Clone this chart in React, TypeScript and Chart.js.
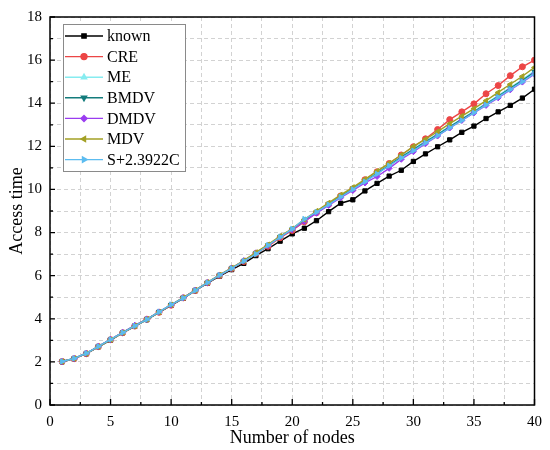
import { useEffect, useRef } from "react"
import { Chart, registerables } from "chart.js"
import { drawPoint } from "chart.js/helpers"

Chart.register(...registerables)

// number of nodes (x axis)
const nodes = [
  1, 2, 3, 4, 5, 6, 7, 8, 9, 10, 11, 12, 13, 14, 15, 16, 17, 18, 19, 20,
  21, 22, 23, 24, 25, 26, 27, 28, 29, 30, 31, 32, 33, 34, 35, 36, 37, 38, 39, 40,
]

const known = [
  2.0, 2.15, 2.38, 2.7, 3.01, 3.35, 3.65, 3.96, 4.3, 4.62, 4.95, 5.3, 5.65, 5.98, 6.28, 6.57, 6.93, 7.25, 7.6, 7.94,
  8.2, 8.55, 8.97, 9.36, 9.52, 9.93, 10.28, 10.62, 10.89, 11.3, 11.65, 11.98, 12.3, 12.65, 12.94, 13.29, 13.6, 13.9, 14.24, 14.65,
]
const cre = [
  2.02, 2.15, 2.38, 2.71, 3.03, 3.35, 3.66, 3.98, 4.3, 4.63, 4.97, 5.31, 5.67, 6.01, 6.33, 6.66, 7.03, 7.36, 7.76, 8.1,
  8.5, 8.92, 9.3, 9.7, 10.02, 10.45, 10.82, 11.2, 11.6, 11.98, 12.35, 12.78, 13.24, 13.6, 13.97, 14.44, 14.82, 15.28, 15.69, 16.0,
]
const me = [
  2.02, 2.16, 2.4, 2.72, 3.03, 3.36, 3.67, 3.97, 4.32, 4.65, 4.97, 5.32, 5.68, 6.02, 6.34, 6.68, 7.05, 7.42, 7.82, 8.15,
  8.57, 8.94, 9.32, 9.68, 10.04, 10.4, 10.77, 11.14, 11.52, 11.88, 12.24, 12.58, 12.93, 13.28, 13.63, 13.99, 14.36, 14.73, 15.1, 15.5,
]
const bmdv = [
  2.02, 2.16, 2.39, 2.72, 3.03, 3.36, 3.68, 3.97, 4.31, 4.64, 4.97, 5.32, 5.67, 6.02, 6.34, 6.68, 7.04, 7.41, 7.8, 8.15,
  8.56, 8.93, 9.31, 9.67, 10.03, 10.38, 10.75, 11.12, 11.5, 11.85, 12.21, 12.55, 12.9, 13.25, 13.6, 13.96, 14.32, 14.69, 15.06, 15.45,
]
const dmdv = [
  2.02, 2.16, 2.4, 2.72, 3.04, 3.37, 3.7, 3.98, 4.32, 4.64, 4.98, 5.33, 5.68, 6.03, 6.35, 6.7, 7.06, 7.4, 7.8, 8.13,
  8.52, 8.9, 9.26, 9.62, 9.95, 10.3, 10.6, 10.98, 11.4, 11.75, 12.12, 12.48, 12.85, 13.2, 13.55, 13.9, 14.25, 14.62, 14.98, 15.35,
]
const mdv = [
  2.02, 2.16, 2.39, 2.71, 3.03, 3.36, 3.67, 3.98, 4.31, 4.65, 4.98, 5.33, 5.69, 6.04, 6.36, 6.7, 7.08, 7.44, 7.84, 8.18,
  8.6, 9.0, 9.38, 9.75, 10.1, 10.47, 10.85, 11.22, 11.6, 12.0, 12.33, 12.68, 13.05, 13.4, 13.75, 14.12, 14.5, 14.88, 15.25, 15.66,
]
const sc = [
  2.02, 2.16, 2.4, 2.72, 3.04, 3.36, 3.67, 3.97, 4.32, 4.66, 4.96, 5.32, 5.68, 6.03, 6.34, 6.68, 7.0, 7.41, 7.79, 8.17,
  8.63, 8.95, 9.3, 9.65, 10.0, 10.36, 10.72, 11.1, 11.46, 11.8, 12.16, 12.5, 12.86, 13.2, 13.56, 13.92, 14.28, 14.64, 15.0, 15.38,
]

const seriesNames = ["known", "CRE", "ME", "BMDV", "DMDV", "MDV", "S+2.3922C"]
const seriesValues = [known, cre, me, bmdv, dmdv, mdv, sc]
const seriesColors = ["#000000", "#ec4646", "#86ecf0", "#147c7c", "#9a3cf0", "#a3a024", "#5cbcf0"]
const seriesMarkers = ["rect", "circle", "triangle", "triangle", "rectRot", "triangle", "triangle"]
const markerRotation = [0, 0, 0, 180, 0, -90, 90]

const FONT = "'Liberation Serif', 'Times New Roman', serif"

// frame, inward ticks and boxed legend in the upper left
const framePlugin = {
  id: "frame",
  afterDraw(chart: any) {
    const { ctx, chartArea } = chart
    const { left, right, top, bottom } = chartArea
    const xs = chart.scales.x
    const ys = chart.scales.y
    ctx.save()
    ctx.strokeStyle = "#000"
    ctx.lineWidth = 1.5
    ctx.strokeRect(left, top, right - left, bottom - top)
    ctx.lineWidth = 1.3
    ctx.beginPath()
    for (let v = 0; v <= 40; v += 2.5) {
      const px = xs.getPixelForValue(v)
      const len = v % 5 === 0 ? 6 : 3
      ctx.moveTo(px, bottom)
      ctx.lineTo(px, bottom - len)
    }
    for (let v = 0; v <= 18; v += 1) {
      const py = ys.getPixelForValue(v)
      const len = v % 2 === 0 ? 5 : 3
      ctx.moveTo(left, py)
      ctx.lineTo(left + len, py)
    }
    ctx.stroke()

    // legend box
    const bx = left + 13
    const by = top + 7
    const bw = 122
    const bh = 147
    ctx.fillStyle = "#fff"
    ctx.fillRect(bx, by, bw, bh)
    ctx.strokeStyle = "#8a8a8a"
    ctx.lineWidth = 1
    ctx.strokeRect(bx + 0.5, by + 0.5, bw, bh)
    ctx.font = `16px ${FONT}`
    ctx.textBaseline = "middle"
    ctx.textAlign = "left"
    seriesNames.forEach((name, i) => {
      const y = by + 12 + i * 20.6
      ctx.strokeStyle = seriesColors[i]
      ctx.fillStyle = seriesColors[i]
      ctx.lineWidth = 1.4
      ctx.beginPath()
      ctx.moveTo(bx + 2, y)
      ctx.lineTo(bx + 40, y)
      ctx.stroke()
      drawPoint(ctx, { pointStyle: seriesMarkers[i], rotation: markerRotation[i], radius: 3, borderWidth: 1 } as any, bx + 21, y)
      ctx.fillStyle = "#000"
      ctx.fillText(name, bx + 44, y + 1)
    })
    ctx.restore()
  },
}

export default function App() {
  const canvasRef = useRef<HTMLCanvasElement>(null)
  const chartRef = useRef<Chart | null>(null)

  useEffect(() => {
    if (!canvasRef.current) return
    if (chartRef.current) chartRef.current.destroy()

    const datasets = seriesNames.map((name, i) => ({
      label: name,
      data: nodes.map((n, j) => ({ x: n, y: seriesValues[i][j] })),
      borderColor: seriesColors[i],
      backgroundColor: seriesColors[i],
      borderWidth: 1.4,
      pointStyle: seriesMarkers[i] as any,
      pointRotation: markerRotation[i],
      pointRadius: 3,
      pointBorderWidth: 1,
      tension: 0,
      order: seriesNames.length - i,
    }))

    chartRef.current = new Chart(canvasRef.current, {
      type: "line",
      data: { datasets },
      options: {
        responsive: false,
        animation: false,
        layout: { padding: { left: 0, right: 13, top: 12, bottom: 0 } },
        plugins: {
          legend: { display: false },
          tooltip: { enabled: false },
        },
        scales: {
          x: {
            type: "linear",
            min: 0,
            max: 40,
            afterFit: (s: any) => {
              s.height = 45
            },
            grid: { color: "#d2d2d2", lineWidth: 1, drawTicks: false },
            border: { display: false, dash: [4, 3] },
            ticks: {
              stepSize: 2.5,
              padding: 8,
              color: "#000",
              font: { family: FONT, size: 15 },
              maxRotation: 0,
              autoSkip: false,
              callback: (v: any) => (Number(v) % 5 === 0 ? String(v) : ""),
            },
            title: {
              display: true,
              text: "Number of nodes",
              color: "#000",
              font: { family: FONT, size: 18 },
              padding: { top: 0, bottom: 1 },
            },
          },
          y: {
            min: 0,
            max: 18,
            afterFit: (s: any) => {
              s.width = 50
            },
            grid: { color: "#d2d2d2", lineWidth: 1, drawTicks: false },
            border: { display: false, dash: [4, 3] },
            ticks: {
              stepSize: 1,
              padding: 8,
              color: "#000",
              font: { family: FONT, size: 15 },
              autoSkip: false,
              callback: (v: any) => (Number(v) % 2 === 0 ? String(v) : ""),
            },
            title: {
              display: true,
              text: "Access time",
              color: "#000",
              font: { family: FONT, size: 18 },
              padding: { top: 6, bottom: 4 },
            },
          },
        },
      },
      plugins: [framePlugin],
    })

    return () => {
      if (chartRef.current) {
        chartRef.current.destroy()
        chartRef.current = null
      }
    }
  }, [])

  return (
    <div style={{ position: "fixed", left: 0, top: 0, width: 550, height: 450, background: "#fff" }}>
      <canvas ref={canvasRef} width={550} height={450} />
    </div>
  )
}
